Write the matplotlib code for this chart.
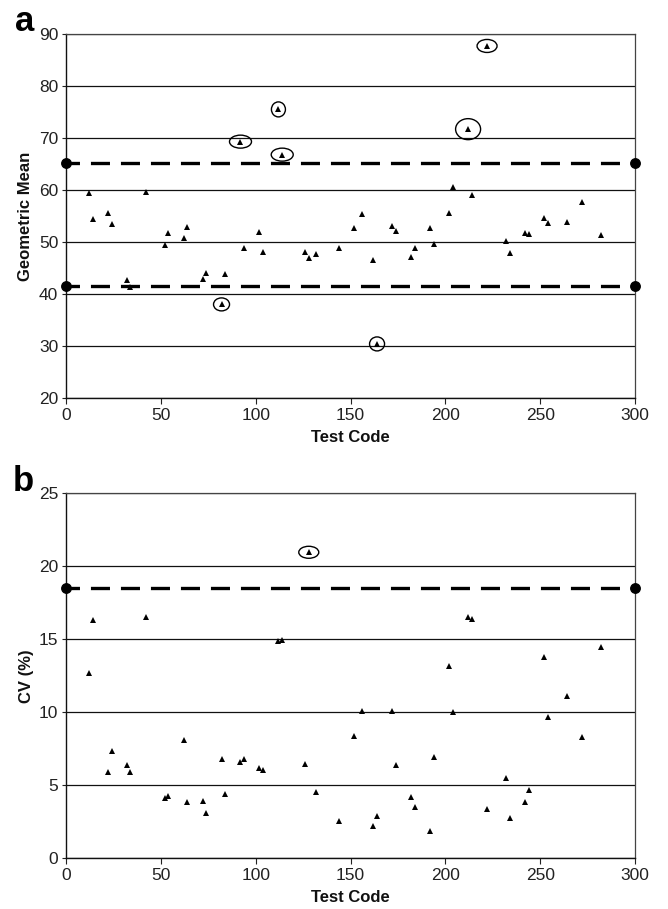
import matplotlib
matplotlib.use('Agg')
import matplotlib.pyplot as plt
from matplotlib.patches import Ellipse
from matplotlib.transforms import ScaledTranslation

plt.rcParams['font.family'] = ['Liberation Sans', 'DejaVu Sans']
plt.rcParams['lines.scale_dashes'] = False

# ---------------- data ----------------
test_code = [12, 14, 22, 24, 32, 34, 42, 52, 54, 62, 64, 72, 74, 82, 84, 92, 94,
             102, 104, 112, 114, 126, 128, 132, 144, 152, 156, 162, 164, 172, 174,
             182, 184, 192, 194, 202, 204, 212, 214, 222, 232, 234, 242, 244, 252,
             254, 264, 272, 282]
geo_mean = [59.4, 54.5, 55.6, 53.4, 42.6, 41.4, 59.6, 49.5, 51.7, 50.8, 52.9, 42.9,
            44.0, 38.0, 43.8, 69.3, 48.9, 51.9, 48.1, 75.5, 66.8, 48.1, 46.9, 47.7,
            48.8, 52.7, 55.3, 46.6, 30.4, 53.1, 52.1, 47.2, 48.8, 52.6, 49.6, 55.6,
            60.6, 71.7, 59.1, 87.7, 50.1, 47.9, 51.7, 51.5, 54.7, 53.7, 53.8, 57.6,
            51.4]
cv_pct = [12.7, 16.3, 5.9, 7.35, 6.4, 5.9, 16.5, 4.1, 4.3, 8.1, 3.86, 3.95, 3.08,
          6.8, 4.43, 6.62, 6.8, 6.2, 6.07, 14.9, 14.95, 6.46, 20.96, 4.56, 2.55,
          8.38, 10.1, 2.23, 2.92, 10.1, 6.37, 4.18, 3.54, 1.87, 6.94, 13.17, 10.0,
          16.55, 16.37, 3.4, 5.52, 2.78, 3.86, 4.68, 13.8, 9.7, 11.1, 8.29, 14.47]

gm_limits = [41.5, 65.1]
cv_limits = [18.5]
gm_outliers = [82, 92, 112, 114, 164, 212, 222]
cv_outliers = [128]

x_ticks = [0, 50, 100, 150, 200, 250, 300]
gm_ticks = [20, 30, 40, 50, 60, 70, 80, 90]
cv_ticks = [0, 5, 10, 15, 20, 25]

# ring sizes in pixels (style)
ring_px = {82: (16, 13), 92: (22, 13), 112: (14, 15), 114: (22, 13),
           164: (15, 14), 212: (25, 21), 222: (20, 13), 128: (20, 12)}

# ---------------- figure ----------------
W, H, DPI = 668, 909, 100
fig = plt.figure(figsize=(W / DPI, H / DPI), dpi=DPI)

def axes_px(left, top, right, bottom):
    return fig.add_axes([left / W, 1 - bottom / H, (right - left) / W, (bottom - top) / H])

ax_a = axes_px(66, 34, 635, 398)
ax_b = axes_px(66, 493.3, 635, 858.3)

def ring(ax, x, y, wpx, hpx):
    tr = fig.dpi_scale_trans + ScaledTranslation(x, y, ax.transData)
    e = Ellipse((0, 0), wpx / DPI, hpx / DPI, transform=tr, fill=False,
                ec='black', lw=1.0, clip_on=False)
    ax.add_patch(e)

def style(ax, yticks, ylim):
    ax.set_xlim(0, 300)
    ax.set_ylim(*ylim)
    ax.set_xticks(x_ticks)
    ax.set_yticks(yticks)
    ax.set_xticklabels([str(t) for t in x_ticks], fontsize=12.5)
    ax.set_yticklabels([str(t) for t in yticks], fontsize=12.5)
    ax.tick_params(axis='x', direction='out', length=4, width=0.8, pad=3,
                   colors='#222222', labelcolor='#222222')
    ax.tick_params(axis='y', direction='out', length=3, width=0.8, pad=2.5,
                   colors='#222222', labelcolor='#222222')
    ax.yaxis.grid(True, color='#111111', lw=0.9)
    ax.set_axisbelow(True)
    for s in ['left', 'bottom']:
        ax.spines[s].set_color('#111111')
        ax.spines[s].set_linewidth(1.0)
    for s in ['top', 'right']:
        ax.spines[s].set_color('#444444')
        ax.spines[s].set_linewidth(0.9)

def limit_line(ax, y):
    ax.plot([0, 300], [y, y], color='black', lw=2.4, linestyle=(4, (13.7, 7.9)),
            solid_capstyle='butt', dash_capstyle='butt', zorder=3, clip_on=False)
    ax.plot([0, 300], [y, y], linestyle='none', marker='o', ms=6.8, color='black',
            zorder=4, clip_on=False)

# panel a
style(ax_a, gm_ticks, (20, 90))
for y in gm_limits:
    limit_line(ax_a, y)
ax_a.plot(test_code, geo_mean, linestyle='none', marker='^', ms=4.8, mew=0,
          color='black', zorder=5)
for code in gm_outliers:
    i = test_code.index(code)
    ring(ax_a, code, geo_mean[i], *ring_px[code])

# panel b
style(ax_b, cv_ticks, (0, 25))
for y in cv_limits:
    limit_line(ax_b, y)
ax_b.plot(test_code, cv_pct, linestyle='none', marker='^', ms=4.8, mew=0,
          color='black', zorder=5)
for code in cv_outliers:
    i = test_code.index(code)
    ring(ax_b, code, cv_pct[i], *ring_px[code])

# labels
lab = dict(fontsize=12, fontweight='bold', color='#111111')
fig.text(26 / W, 1 - 216 / H, 'Geometric Mean', rotation=90, ha='center', va='center', **lab)
fig.text(26 / W, 1 - 676 / H, 'CV (%)', rotation=90, ha='center', va='center', **lab)
fig.text(350.5 / W, 1 - 437 / H, 'Test Code', ha='center', va='center', **lab)
fig.text(350.5 / W, 1 - 897 / H, 'Test Code', ha='center', va='center', **lab)
fig.text(15 / W, 1 - 31 / H, 'a', ha='left', va='baseline', fontsize=25, fontweight='bold')
fig.text(13 / W, 1 - 491 / H, 'b', ha='left', va='baseline', fontsize=25, fontweight='bold')

fig.savefig('out.png', dpi=DPI)
